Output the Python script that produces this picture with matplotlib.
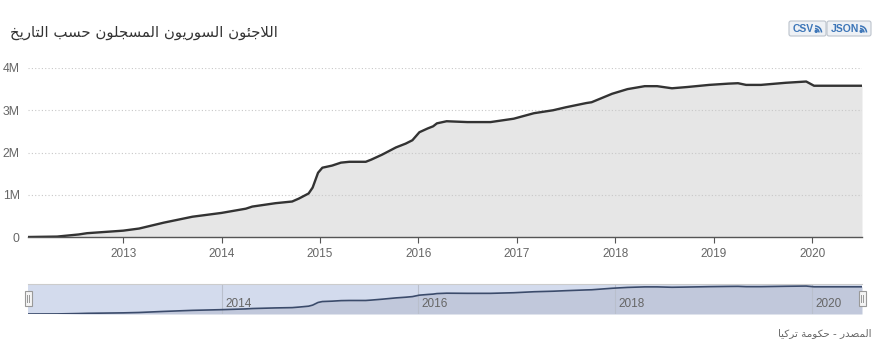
import matplotlib
matplotlib.use("Agg")
import matplotlib.pyplot as plt
import matplotlib.dates as mdates
from matplotlib.patches import Rectangle, FancyBboxPatch, Arc, Circle
import numpy as np
import datetime as dt

# ---------------- data ----------------
title_text = "اللاجئون السوريون المسجلون حسب التاريخ"
source_text = "المصدر - حكومة تركيا"
dates = ["2012-01-14", "2012-05-01", "2012-07-20", "2012-08-20", "2013-01-01", "2013-03-01",
         "2013-06-01", "2013-09-15", "2014-01-01", "2014-04-01", "2014-04-25", "2014-07-20",
         "2014-09-20", "2014-10-15", "2014-11-20", "2014-12-05", "2014-12-25", "2015-01-10",
         "2015-02-15", "2015-03-20", "2015-04-20", "2015-06-20", "2015-07-10", "2015-08-20",
         "2015-10-10", "2015-11-15", "2015-12-10", "2016-01-05", "2016-02-05", "2016-02-25",
         "2016-03-10", "2016-04-15", "2016-07-01", "2016-09-25", "2016-12-20", "2017-03-05",
         "2017-05-15", "2017-07-01", "2017-09-15", "2017-10-05", "2017-12-20", "2018-02-15",
         "2018-04-20", "2018-06-05", "2018-07-30", "2018-09-25", "2018-12-15", "2019-02-25",
         "2019-04-01", "2019-05-01", "2019-06-25", "2019-09-25", "2019-12-10", "2020-01-08",
         "2020-03-25", "2020-07-04"]
refugees_m = [0.0, 0.01, 0.06, 0.09, 0.15, 0.20,
              0.34, 0.48, 0.57, 0.67, 0.72, 0.80,
              0.84, 0.91, 1.03, 1.17, 1.52, 1.64,
              1.69, 1.76, 1.78, 1.78, 1.83, 1.95,
              2.12, 2.21, 2.29, 2.48, 2.57, 2.62,
              2.69, 2.74, 2.72, 2.72, 2.80, 2.93,
              3.00, 3.07, 3.17, 3.19, 3.39, 3.50,
              3.57, 3.57, 3.52, 3.55, 3.60, 3.63,
              3.64, 3.60, 3.60, 3.65, 3.68, 3.58,
              3.58, 3.58]
y_ticks_m = [0, 1, 2, 3, 4]
y_tick_labels = ["0", "1M", "2M", "3M", "4M"]
x_tick_years = [2013, 2014, 2015, 2016, 2017, 2018, 2019, 2020]
nav_tick_years = [2014, 2016, 2018, 2020]
button_labels = ["CSV", "JSON"]

# ---------------- Arabic shaping (presentation forms, visual order) ----------------
FORMS = {
    '\u0627': ('\uFE8D', '\uFE8E', None, None),
    '\u0628': ('\uFE8F', '\uFE90', '\uFE91', '\uFE92'),
    '\u0629': ('\uFE93', '\uFE94', None, None),
    '\u062A': ('\uFE95', '\uFE96', '\uFE97', '\uFE98'),
    '\u062C': ('\uFE9D', '\uFE9E', '\uFE9F', '\uFEA0'),
    '\u062D': ('\uFEA1', '\uFEA2', '\uFEA3', '\uFEA4'),
    '\u062E': ('\uFEA5', '\uFEA6', '\uFEA7', '\uFEA8'),
    '\u062F': ('\uFEA9', '\uFEAA', None, None),
    '\u0631': ('\uFEAD', '\uFEAE', None, None),
    '\u0633': ('\uFEB1', '\uFEB2', '\uFEB3', '\uFEB4'),
    '\u0635': ('\uFEB9', '\uFEBA', '\uFEBB', '\uFEBC'),
    '\u0643': ('\uFED9', '\uFEDA', '\uFEDB', '\uFEDC'),
    '\u0644': ('\uFEDD', '\uFEDE', '\uFEDF', '\uFEE0'),
    '\u0645': ('\uFEE1', '\uFEE2', '\uFEE3', '\uFEE4'),
    '\u0646': ('\uFEE5', '\uFEE6', '\uFEE7', '\uFEE8'),
    '\u0648': ('\uFEED', '\uFEEE', None, None),
    '\u064A': ('\uFEF1', '\uFEF2', '\uFEF3', '\uFEF4'),
    '\u0626': ('\uFE89', '\uFE8A', '\uFE8B', '\uFE8C'),
}
LAMALEF = ('\uFEFB', '\uFEFC', None, None)


def shape_ar(s):
    toks = []
    i = 0
    while i < len(s):
        c = s[i]
        if c == '\u0644' and i + 1 < len(s) and s[i + 1] == '\u0627':
            toks.append(LAMALEF)
            i += 2
            continue
        toks.append(FORMS.get(c, c))
        i += 1
    out = []
    for k, t in enumerate(toks):
        if isinstance(t, str):
            out.append(t)
            continue
        prev = toks[k - 1] if k > 0 else None
        nxt = toks[k + 1] if k + 1 < len(toks) else None
        pj = isinstance(prev, tuple) and prev[2] is not None
        nj = t[2] is not None and isinstance(nxt, tuple)
        if pj and nj:
            out.append(t[3])
        elif pj:
            out.append(t[1])
        elif nj:
            out.append(t[2])
        else:
            out.append(t[0])
    return "".join(out[::-1])


# ---------------- figure ----------------
W, H = 890, 359
plt.rcParams['font.family'] = ['Liberation Sans', 'DejaVu Sans']
fig = plt.figure(figsize=(W / 100, H / 100), dpi=100)
fig.patch.set_facecolor('white')

x = [mdates.date2num(dt.date.fromisoformat(d)) for d in dates]
y = np.array(refugees_m) * 1e6
x0 = mdates.date2num(dt.date(2012, 1, 14))
x1 = mdates.date2num(dt.date(2020, 7, 4))

L, R = 28, 862
top, bot = 68, 237
ax = fig.add_axes([L / W, (H - bot) / H, (R - L) / W, (bot - top) / H])
ax.set_facecolor('none')
ax.fill_between(x, y, 0, color='#e6e6e6', lw=0, zorder=1)
ax.plot(x, y, color='#333333', lw=1.7, zorder=3, solid_joinstyle='round')
ax.set_xlim(x0, x1)
ax.set_ylim(0, 4e6)
ax.set_yticks([v * 1e6 for v in y_ticks_m])
ax.set_yticklabels(y_tick_labels)
ax.set_xticks([mdates.date2num(dt.date(yr, 1, 1)) for yr in x_tick_years])
ax.set_xticklabels([str(yr) for yr in x_tick_years])
for s in ['top', 'right', 'left']:
    ax.spines[s].set_visible(False)
ax.spines['bottom'].set_color('#555555')
ax.spines['bottom'].set_linewidth(1.0)
ax.spines['bottom'].set_zorder(4)
ax.grid(axis='y', color='#c8c8c8', linestyle=(0, (1, 2)), lw=0.8, zorder=0)
ax.tick_params(axis='y', length=0, pad=6, labelsize=8.8, labelcolor='#666666')
ax.tick_params(axis='x', length=4, width=0.8, color='#555555', pad=4,
               labelsize=8.5, labelcolor='#666666')

# navigator
ntop, nbot = 284, 314
nav = fig.add_axes([L / W, (H - nbot) / H, (R - L) / W, (nbot - ntop) / H])
nav.set_facecolor('#d3dbed')
nav.fill_between(x, y, 0, color='#c1c8db', lw=0, zorder=1)
nav.plot(x, y, color='#3b4b6b', lw=1.2, zorder=3)
nav.set_xlim(x0, x1)
nav.set_ylim(0, 3.95e6)
nav.set_xticks([])
nav.set_yticks([])
for s in ['right', 'left', 'bottom']:
    nav.spines[s].set_visible(False)
nav.spines['top'].set_color('#cccccc')
nav.spines['top'].set_linewidth(0.8)
for yr in nav_tick_years:
    xv = mdates.date2num(dt.date(yr, 1, 1))
    nav.axvline(xv, color='#b9bfcc', lw=0.8, zorder=2)
    nav.annotate(str(yr), (xv, 0), xycoords=('data', 'axes fraction'),
                 xytext=(2.5, 3), textcoords='offset points', ha='left', va='bottom',
                 fontsize=8.5, color='#666666', zorder=4)

# overlay for decorations (pixel coords)
ov = fig.add_axes([0, 0, 1, 1])
ov.set_xlim(0, W)
ov.set_ylim(H, 0)
ov.axis('off')
ov.patch.set_alpha(0)

# navigator handles
for hx in (L, R):
    ov.add_patch(Rectangle((hx - 3.5, 291), 7, 15, facecolor='#f4f4f4', edgecolor='#999999', lw=0.8, zorder=5))
    ov.plot([hx - 1, hx - 1], [295, 302], color='#999999', lw=0.7, zorder=6)
    ov.plot([hx + 1, hx + 1], [295, 302], color='#999999', lw=0.7, zorder=6)

# title and source
ov.text(10, 33, shape_ar(title_text), fontsize=10.7, color='#333333', ha='left', va='center',
        family=['DejaVu Sans'])
ov.text(872, 333, shape_ar(source_text), fontsize=7.5, color='#666666', ha='right', va='center',
        family=['DejaVu Sans'])

# CSV / JSON buttons
buttons = [(789, 826), (827, 871)]
for (bx0, bx1), lab in zip(buttons, button_labels):
    ov.add_patch(FancyBboxPatch((bx0, 21), bx1 - bx0, 15, boxstyle='round,pad=0,rounding_size=2',
                                facecolor='#eef1f5', edgecolor='#bcc3cc', lw=0.8, zorder=5))
    ov.text(bx0 + 4, 28.7, lab, fontsize=7.5, fontweight='bold', color='#3d76b8',
            ha='left', va='center', zorder=6)
    ix = bx1 - 11
    iy = 32.5
    ov.add_patch(Circle((ix + 1.2, iy - 1.2), 1.0, color='#3d76b8', zorder=6))
    ov.add_patch(Arc((ix, iy), 8, 8, theta1=270, theta2=360, color='#3d76b8', lw=1.1, zorder=6))
    ov.add_patch(Arc((ix, iy), 13, 13, theta1=270, theta2=360, color='#3d76b8', lw=1.1, zorder=6))

fig.savefig('out.png', dpi=100, facecolor='white')
